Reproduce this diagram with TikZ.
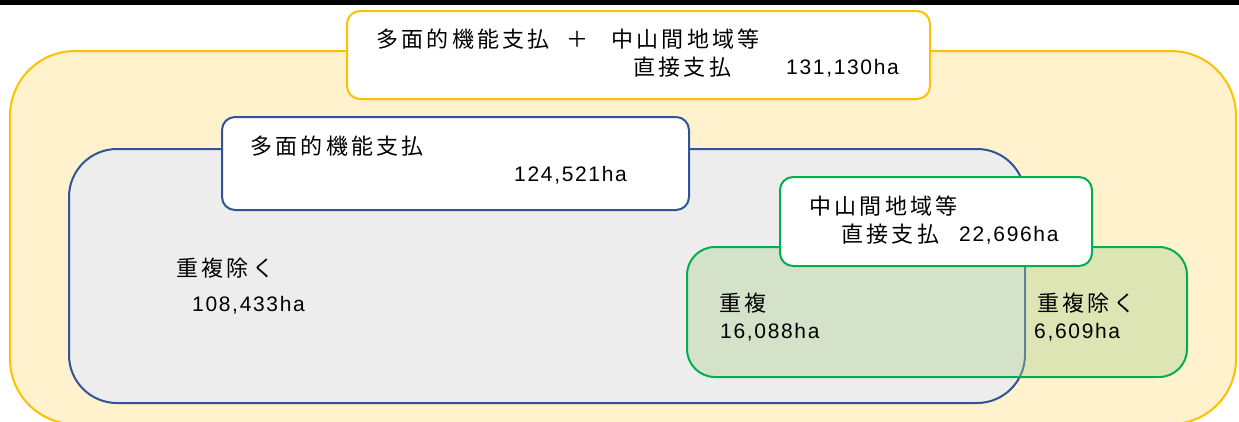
\documentclass[tikz,border=0pt]{standalone}
\usepackage{fontspec}
\newfontfamily\jpfont{Noto Sans CJK JP}[LetterSpace=15]
\newfontfamily\numfont{Liberation Sans}[LetterSpace=8]
\definecolor{ybord}{HTML}{FFC000}
\definecolor{yfill}{HTML}{FFF2CC}
\definecolor{bbord}{HTML}{2F5597}
\definecolor{gfill}{HTML}{EDEDED}
\definecolor{grbord}{HTML}{00B050}
\definecolor{grfill}{HTML}{A9D18E}
\tikzset{
  box/.style={draw, line width=2pt, inner sep=0pt},
  jt/.style={font=\jpfont\fontsize{22}{26}\selectfont, anchor=base west, inner sep=0pt, text=black},
  nt/.style={font=\numfont\fontsize{21}{25}\selectfont, anchor=base west, inner sep=0pt, text=black},
}
\begin{document}
\begin{tikzpicture}[x=1pt,y=-1pt]
\useasboundingbox (0,0) rectangle (1239,421);
\clip (0,0) rectangle (1239,421);
\fill[black] (0,0) rectangle (1239,4.5);
% outer yellow
\node[box, draw=ybord, fill=yfill, rounded corners=65pt, minimum width=1226pt, minimum height=373pt] (outer) at (623,237.5) {};
\node[box, draw=ybord, fill=white, rounded corners=13pt, minimum width=583pt, minimum height=88pt] (topbox) at (638.5,55) {};
% gray
\node[box, draw=bbord, fill=gfill, rounded corners=48pt, minimum width=956pt, minimum height=254pt] (gray) at (547,276) {};
\node[box, draw=bbord, fill=white, rounded corners=13pt, minimum width=467pt, minimum height=93pt] (tamen) at (455.5,163.5) {};
% green
\node[box, draw=grbord, fill=grfill, fill opacity=0.38, draw opacity=1, rounded corners=28pt, minimum width=500pt, minimum height=130pt] (green) at (937,312) {};
\node[box, draw=grbord, fill=white, rounded corners=13pt, minimum width=312pt, minimum height=89pt] (chusan) at (936,221.5) {};
% texts top box
\node[jt] (t1a) at (376,47.5) {多面的機能支払};
\node[jt, anchor=base] (t1b) at (577,47.5) {＋};
\node[jt] (t1c) at (611,47.5) {中山間地域等};
\node[jt] (t1d) at (633,75.5) {直接支払};
\node[nt] (t1e) at (786,74.5) {131,130ha};
% tamen box
\node[jt] (t2a) at (250,154.5) {多面的機能支払};
\node[nt] (t2b) at (514,181.5) {124,521ha};
% gray
\node[jt] (t3a) at (176,276.5) {重複除く};
\node[nt] (t3b) at (192,311.5) {108,433ha};
% chusan box
\node[jt] (t4a) at (809,214.5) {中山間地域等};
\node[jt] (t4b) at (841,242.5) {直接支払};
\node[nt] (t4c) at (959,241.5) {22,696ha};
% green
\node[jt] (t5a) at (719,311.5) {重複};
\node[nt] (t5b) at (720,338.5) {16,088ha};
\node[jt] (t6a) at (1037,311.5) {重複除く};
\node[nt] (t6b) at (1034,338.5) {6,609ha};
\end{tikzpicture}
\end{document}
